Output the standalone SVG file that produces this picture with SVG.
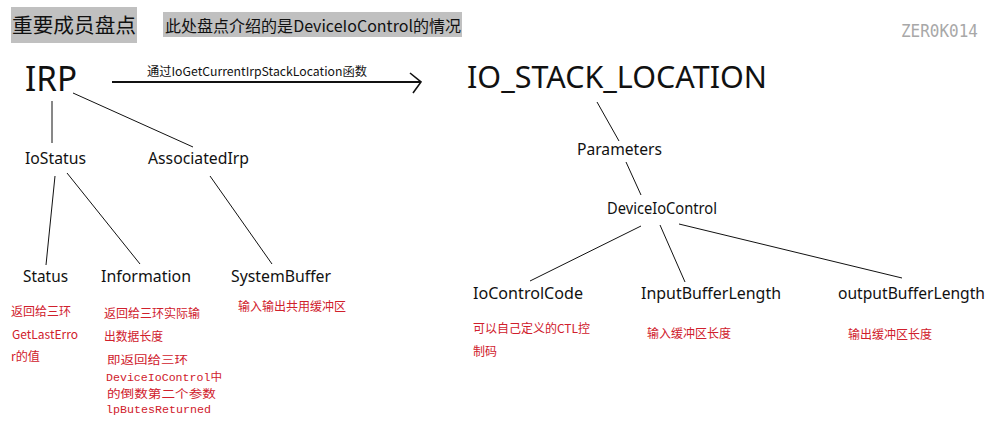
<svg xmlns="http://www.w3.org/2000/svg" width="999" height="426" viewBox="0 0 999 426">
<style>
.n{font-family:"Noto Sans","Noto Sans CJK SC",sans-serif;font-size:16.5px;fill:#111}
.big{font-family:"Noto Sans",sans-serif;fill:#111}
.r{font-family:"Noto Sans CJK SC","Noto Sans",sans-serif;font-size:12px;fill:#d0202c}
.m{font-family:"Liberation Mono","Noto Sans CJK SC",monospace;font-size:11.7px;fill:#d0202c}
.t{font-family:"Noto Sans CJK SC","Noto Sans",sans-serif;fill:#111}
.l{stroke:#111;stroke-width:1;fill:none}
</style>
<rect width="999" height="426" fill="#fff"/>
<g id="title">
<rect x="11" y="7" width="126" height="36" fill="#c0c0c0"/>
<text class="t" x="12" y="33" font-size="20.5" textLength="124" lengthAdjust="spacingAndGlyphs">重要成员盘点</text>
</g>
<g id="subtitle">
<rect x="163" y="12" width="299" height="25" fill="#c0c0c0"/>
<text class="t" x="165" y="32" font-size="16" textLength="296" lengthAdjust="spacingAndGlyphs">此处盘点介绍的是DeviceIoControl的情况</text>
</g>
<g id="watermark">
<text x="901" y="37" font-family="DejaVu Sans Mono,monospace" font-size="18" fill="#a8a8a8" textLength="77" lengthAdjust="spacingAndGlyphs">ZER0K014</text>
</g>
<g id="connectors">
<line x1="112" y1="82" x2="420" y2="82" stroke="#111" stroke-width="2"/>
<polyline points="410,73 421,82 413,93" stroke="#111" stroke-width="1.6" fill="none"/>
<text class="t" x="147" y="76" font-size="12" textLength="220" lengthAdjust="spacingAndGlyphs">通过IoGetCurrentIrpStackLocation函数</text>
<line class="l" x1="52" y1="101" x2="52" y2="143" stroke-width="1.5"/>
<line class="l" x1="73" y1="93" x2="193" y2="147"/>
<line class="l" x1="55" y1="176" x2="46" y2="265" stroke-width="1.3"/>
<line class="l" x1="67" y1="173" x2="140" y2="264"/>
<line class="l" x1="210" y1="176" x2="272" y2="264"/>
<line class="l" x1="597" y1="102" x2="619" y2="141"/>
<line class="l" x1="626" y1="162" x2="641" y2="195"/>
<line class="l" x1="641" y1="226" x2="530" y2="281"/>
<line class="l" x1="660" y1="225" x2="685" y2="282"/>
<line class="l" x1="679" y1="224" x2="902" y2="278"/>
</g>
<g id="irp"><text class="big" x="25" y="91" font-size="35" textLength="52" lengthAdjust="spacingAndGlyphs">IRP</text></g>
<g id="io_stack_location"><text class="big" x="467" y="88" font-size="30.5" textLength="300" lengthAdjust="spacingAndGlyphs">IO_STACK_LOCATION</text></g>
<g id="iostatus"><text class="n" x="25" y="164" textLength="61" lengthAdjust="spacingAndGlyphs">IoStatus</text></g>
<g id="associatedirp"><text class="n" x="148" y="164" textLength="101" lengthAdjust="spacingAndGlyphs">AssociatedIrp</text></g>
<g id="status">
<text class="n" x="23" y="282" textLength="45" lengthAdjust="spacingAndGlyphs">Status</text>
<text class="r" x="11" y="316" textLength="60" lengthAdjust="spacingAndGlyphs">返回给三环</text>
<text class="r" x="12" y="339" textLength="66" lengthAdjust="spacingAndGlyphs">GetLastErro</text>
<text class="r" x="11" y="361" textLength="29" lengthAdjust="spacingAndGlyphs">r的值</text>
</g>
<g id="information">
<text class="n" x="101" y="282" textLength="90" lengthAdjust="spacingAndGlyphs">Information</text>
<text class="r" x="104" y="318" textLength="96" lengthAdjust="spacingAndGlyphs">返回给三环实际输</text>
<text class="r" x="104" y="341" textLength="59" lengthAdjust="spacingAndGlyphs">出数据长度</text>
<text class="m" x="107" y="364" textLength="81" lengthAdjust="spacingAndGlyphs">即返回给三环</text>
<text class="m" x="106" y="381" textLength="116" lengthAdjust="spacingAndGlyphs">DeviceIoControl中</text>
<text class="m" x="107" y="398" textLength="109" lengthAdjust="spacingAndGlyphs">的倒数第二个参数</text>
<text class="m" x="106" y="413" textLength="105" lengthAdjust="spacingAndGlyphs">lpButesReturned</text>
</g>
<g id="systembuffer">
<text class="n" x="231" y="282" textLength="100" lengthAdjust="spacingAndGlyphs">SystemBuffer</text>
<text class="r" x="238" y="311" textLength="108" lengthAdjust="spacingAndGlyphs">输入输出共用缓冲区</text>
</g>
<g id="parameters"><text class="n" x="577" y="155" textLength="85" lengthAdjust="spacingAndGlyphs">Parameters</text></g>
<g id="deviceiocontrol"><text class="n" x="607" y="214" textLength="110" lengthAdjust="spacingAndGlyphs">DeviceIoControl</text></g>
<g id="iocontrolcode">
<text class="n" x="473" y="299" textLength="110" lengthAdjust="spacingAndGlyphs">IoControlCode</text>
<text class="r" x="473" y="333" textLength="117" lengthAdjust="spacingAndGlyphs">可以自己定义的CTL控</text>
<text class="r" x="473" y="356" textLength="24" lengthAdjust="spacingAndGlyphs">制码</text>
</g>
<g id="inputbufferlength">
<text class="n" x="641" y="299" textLength="140" lengthAdjust="spacingAndGlyphs">InputBufferLength</text>
<text class="r" x="647" y="338" textLength="84" lengthAdjust="spacingAndGlyphs">输入缓冲区长度</text>
</g>
<g id="outputbufferlength">
<text class="n" x="838" y="299" textLength="147" lengthAdjust="spacingAndGlyphs">outputBufferLength</text>
<text class="r" x="848" y="339" textLength="84" lengthAdjust="spacingAndGlyphs">输出缓冲区长度</text>
</g>
</svg>
